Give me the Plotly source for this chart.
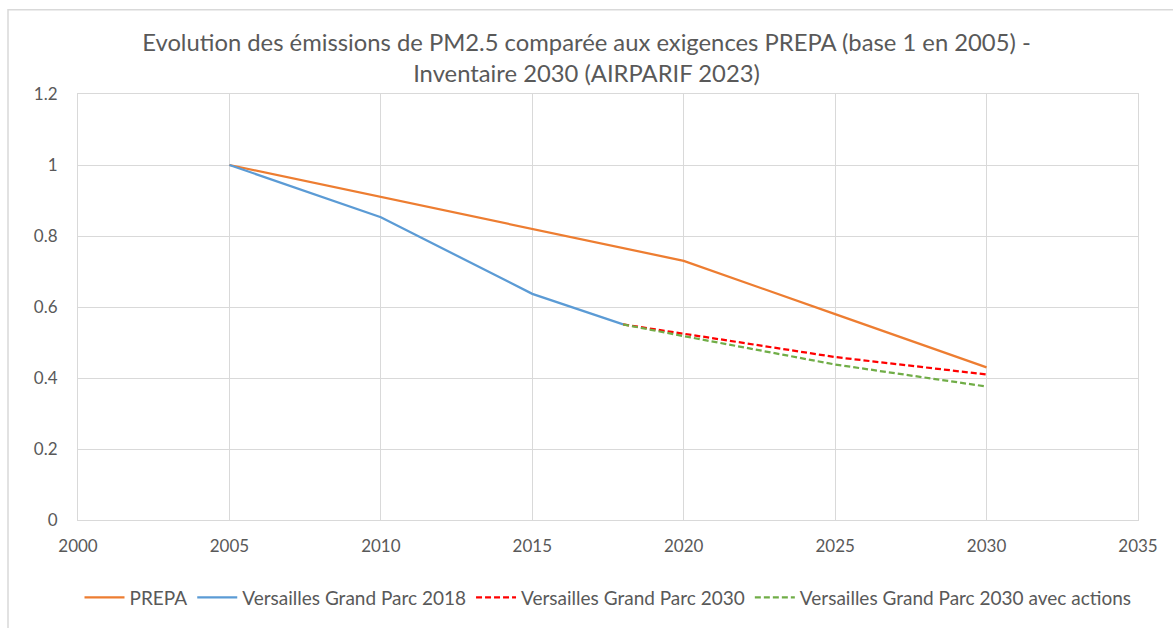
import plotly.graph_objects as go

# PM2.5 emissions index (base 1 in 2005)
prepa_years = [2005, 2010, 2015, 2020, 2025, 2030]
prepa_values = [1.0, 0.91, 0.82, 0.73, 0.58, 0.43]

vgp2018_years = [2005, 2010, 2015, 2018]
vgp2018_values = [1.0, 0.853, 0.637, 0.551]

vgp2030_years = [2018, 2020, 2025, 2030]
vgp2030_values = [0.551, 0.525, 0.459, 0.41]

vgp2030_actions_years = [2018, 2020, 2025, 2030]
vgp2030_actions_values = [0.551, 0.518, 0.438, 0.376]

x_ticks = [2000, 2005, 2010, 2015, 2020, 2025, 2030, 2035]
y_ticks = [0, 0.2, 0.4, 0.6, 0.8, 1, 1.2]

FONT = "Lato"
TEXT = "#595959"
GRID = "#d9d9d9"

fig = go.Figure()
fig.add_trace(go.Scatter(x=prepa_years, y=prepa_values, mode="lines", name="PREPA",
                         line=dict(color="#ED7D31", width=2.25)))
fig.add_trace(go.Scatter(x=vgp2018_years, y=vgp2018_values, mode="lines",
                         name="Versailles Grand Parc 2018",
                         line=dict(color="#5B9BD5", width=2.25)))
fig.add_trace(go.Scatter(x=vgp2030_years, y=vgp2030_values, mode="lines",
                         name="Versailles Grand Parc 2030",
                         line=dict(color="#FF0000", width=2.25, dash="6px,3px")))
fig.add_trace(go.Scatter(x=vgp2030_actions_years, y=vgp2030_actions_values, mode="lines",
                         name="Versailles Grand Parc 2030 avec actions",
                         line=dict(color="#70AD47", width=2.25, dash="6px,3px")))

fig.update_layout(
    width=1173, height=628,
    margin=dict(l=78, r=35, t=94, b=107),
    paper_bgcolor="white", plot_bgcolor="white",
    font=dict(family=FONT, color=TEXT, size=17),
    title=dict(
        text="Evolution des émissions de PM2.5 comparée aux exigences PREPA (base 1 en 2005) -<br>Inventaire 2030 (AIRPARIF 2023)",
        x=0.5, xanchor="center", y=0.919, yanchor="middle",
        font=dict(family=FONT, size=23.8, color=TEXT),
    ),
    xaxis=dict(range=[2000, 2035], tickvals=x_ticks, ticktext=[str(v) for v in x_ticks],
               showgrid=True, gridcolor=GRID, gridwidth=1, zeroline=False,
               showline=True, mirror=True, linecolor=GRID, linewidth=1,
               ticks="", ticklabelstandoff=11, tickfont=dict(size=17, color=TEXT)),
    yaxis=dict(range=[0, 1.2], tickvals=y_ticks, ticktext=["0", "0.2", "0.4", "0.6", "0.8", "1", "1.2"],
               showgrid=True, gridcolor=GRID, gridwidth=1, zeroline=False,
               showline=True, mirror=True, linecolor=GRID, linewidth=1,
               ticks="", ticklabelstandoff=16, tickfont=dict(size=17, color=TEXT)),
    legend=dict(orientation="h", x=0.5, xanchor="center", y=-0.135, yanchor="top",
                font=dict(size=19, color=TEXT), itemwidth=40, tracegroupgap=0),
    showlegend=True,
)

# Outer chart frame
fig.add_shape(type="rect", xref="paper", yref="paper",
              x0=(8 - 78) / 1060, x1=(1200 - 78) / 1060,
              y0=(521 - 660) / 427, y1=(521 - 9.5) / 427,
              line=dict(color=GRID, width=1.5), fillcolor="rgba(0,0,0,0)", layer="below")

fig.write_html("out.html")
